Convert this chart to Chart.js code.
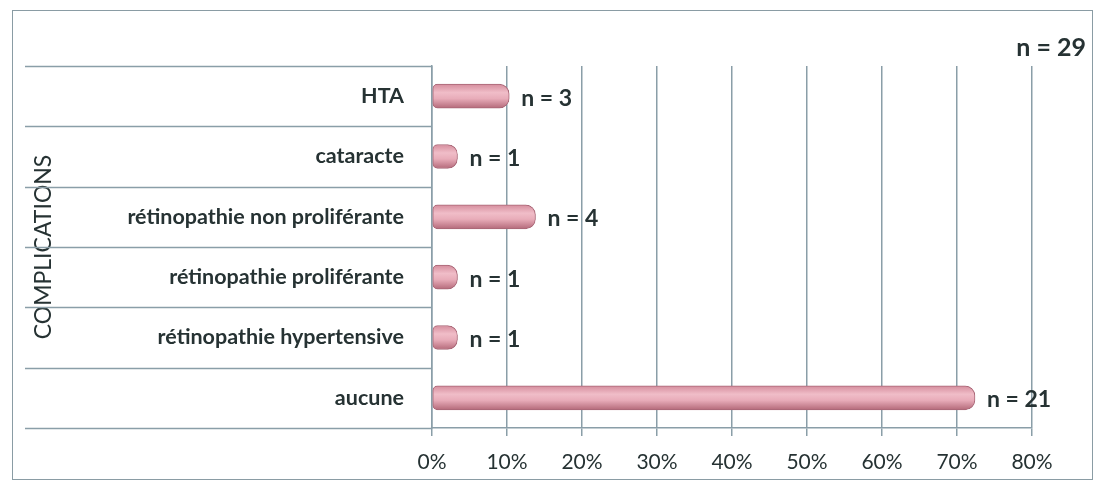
<!DOCTYPE html>
<html>
<head>
<meta charset="utf-8">
<script src="https://cdn.jsdelivr.net/npm/chart.js@4/dist/chart.umd.min.js"></script>
<style>
  body { margin: 0; background: #fff; }
  #wrap { position: relative; width: 1104px; height: 485px; }
  #frame { position: absolute; left: 12px; top: 10px; width: 1079px; height: 468px; border: 1.5px solid #8a9ca4; }
  canvas { position: absolute; left: 0; top: 0; }
</style>
</head>
<body>
<div id="wrap">
  <div id="frame"></div>
  <canvas id="results" width="1104" height="485"></canvas>
</div>
<script>
// categories, top to bottom
const categories = [
  'HTA',
  'cataracte',
  'rétinopathie non proliférante',
  'rétinopathie proliférante',
  'rétinopathie hypertensive',
  'aucune'
];
// share of patients (%) and counts shown next to each bar
const percentValues = [10.3, 3.4, 13.8, 3.4, 3.4, 72.4];
const countValues = [3, 1, 4, 1, 1, 21];
const totalLabel = 'n = 29';
const xTicks = [0, 10, 20, 30, 40, 50, 60, 70, 80];

const textColor = '#263233';
const lineColor = '#8a9ea8';
const labelFont = 'Lato, "Open Sans", sans-serif';

// pink cylinder look: darker edges, lighter middle
function barColor(ctx) {
  let chart = ctx.chart;
  let y = chart.scales.y;
  if (!y || !chart.chartArea) return '#e8a8b6';
  let cy = y.getPixelForValue(ctx.dataIndex);
  let g = chart.ctx.createLinearGradient(0, cy - 12, 0, cy + 12);
  g.addColorStop(0, '#d58d9d');
  g.addColorStop(0.35, '#f0bdc8');
  g.addColorStop(0.6, '#e8acb9');
  g.addColorStop(1, '#b46a7a');
  return g;
}

// "n = x" next to bars, total at top right, row separators on the left
const extras = {
  id: 'extras',
  afterDatasetsDraw(chart) {
    let c = chart.ctx;
    let area = chart.chartArea;
    let y = chart.scales.y;
    let meta = chart.getDatasetMeta(0);

    c.save();
    c.fillStyle = textColor;
    c.font = 'bold 23px ' + labelFont;
    c.textBaseline = 'middle';
    c.textAlign = 'left';
    meta.data.forEach((bar, i) => {
      c.fillText('n = ' + countValues[i], bar.x + 12, bar.y + 2);
    });

    c.font = 'bold 25px ' + labelFont;
    c.textAlign = 'right';
    c.fillText(totalLabel, 1086, 48);

    // separators between categories, in the label area
    c.strokeStyle = lineColor;
    c.lineWidth = 1.5;
    let half = (y.getPixelForValue(1) - y.getPixelForValue(0)) / 2;
    for (let i = 0; i <= categories.length; i++) {
      let py = Math.round(y.getPixelForValue(i) - half) + 0.5;
      c.beginPath();
      c.moveTo(25, py);
      c.lineTo(area.left, py);
      c.stroke();
    }
    c.restore();
  }
};

let results = new Chart(document.getElementById('results').getContext('2d'), {
  type: 'bar',
  data: {
    labels: categories,
    datasets: [{
      data: percentValues,
      backgroundColor: barColor,
      borderColor: '#a86676',
      borderWidth: 1,
      borderSkipped: false,
      borderRadius: { topLeft: 5, bottomLeft: 5, topRight: 10, bottomRight: 10 },
      barThickness: 24
    }]
  },
  options: {
    indexAxis: 'y',
    responsive: false,
    animation: false,
    layout: { padding: { left: 30, top: 66, right: 72, bottom: 0 } },
    plugins: {
      legend: { display: false },
      tooltip: { enabled: false }
    },
    scales: {
      x: {
        min: 0,
        max: 80,
        afterBuildTicks(scale) {
          scale.ticks = xTicks.map(v => ({ value: v }));
        },
        afterFit(scale) { scale.height = 57; },
        grid: { color: lineColor, lineWidth: 1.5, tickLength: 8 },
        border: { color: lineColor, width: 1.5 },
        ticks: {
          padding: 14,
          color: textColor,
          font: { family: labelFont, size: 21 },
          callback: v => v + '%'
        }
      },
      y: {
        afterFit(scale) { scale.width = 402; },
        grid: { display: false },
        border: { color: lineColor, width: 1.5 },
        ticks: {
          padding: 20,
          color: textColor,
          font: { family: labelFont, size: 21.5, weight: 'bold' }
        },
        title: {
          display: true,
          text: 'COMPLICATIONS',
          color: textColor,
          padding: { top: 0, bottom: 0 },
          font: { family: labelFont, size: 23 }
        }
      }
    }
  },
  plugins: [extras]
});
</script>
</body>
</html>
